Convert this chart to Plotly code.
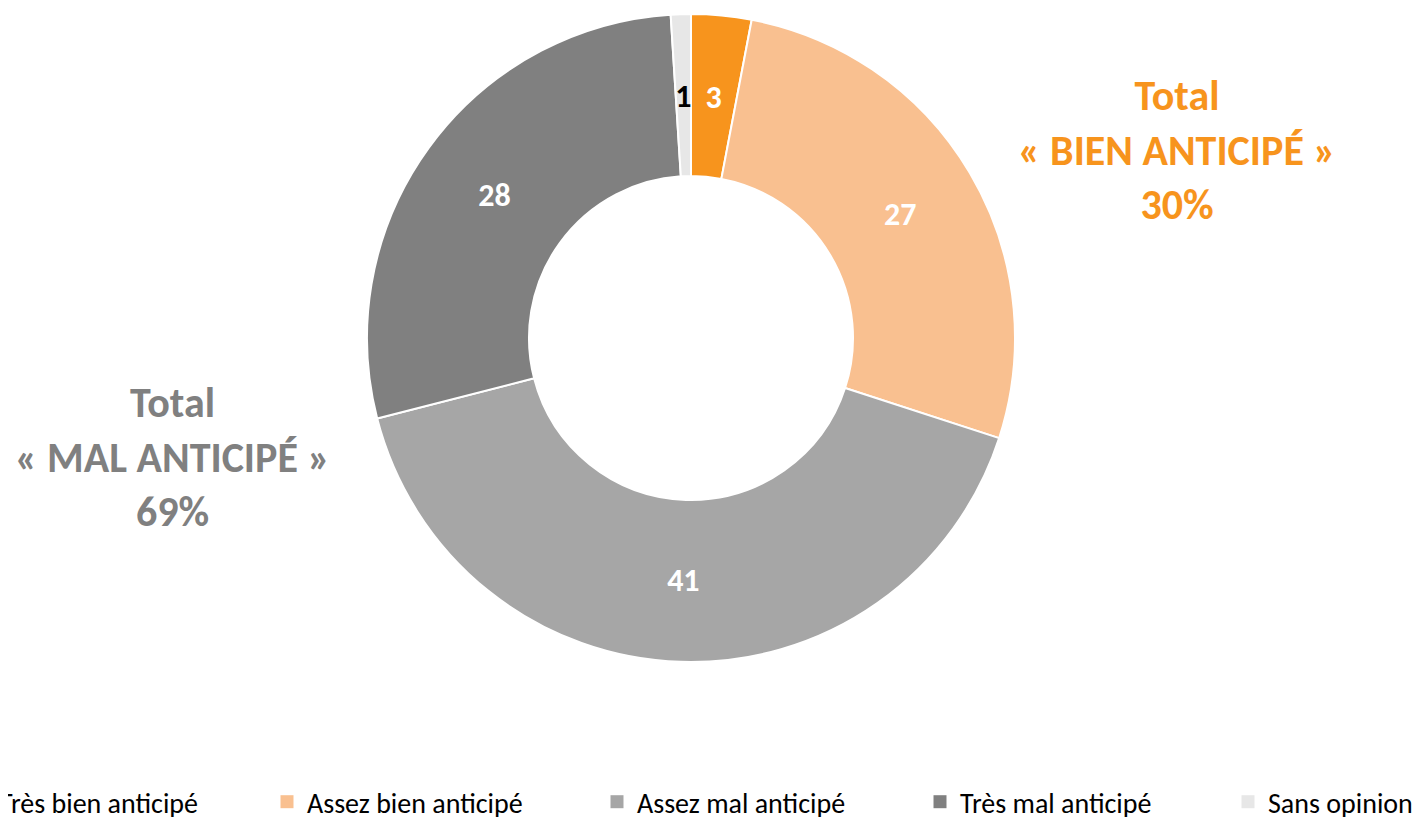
import plotly.graph_objects as go

categories = ["Très bien anticipé", "Assez bien anticipé", "Assez mal anticipé", "Très mal anticipé", "Sans opinion"]
values = [3, 27, 41, 28, 1]
colors = ["#F7941D", "#F9C090", "#A6A6A6", "#808080", "#E7E7E7"]
label_colors = ["white", "white", "white", "white", "black"]

FONT = "Carlito, Lato, sans-serif"
W, H = 1424, 817
OFF = 8  # page offset of the plot div
CX, CY, R = 691 - OFF, 338 - OFF, 324  # pie centre / radius in pixels


def dom(radius):
    return dict(x=[(CX - radius) / W, (CX + radius) / W],
                y=[1 - (CY + radius) / H, 1 - (CY - radius) / H])


def labels_for(idx):
    return [f"<b>{v}</b>" if i in idx else "" for i, v in enumerate(values)]


fig = go.Figure()

# main donut (labels of the wide slices)
fig.add_trace(go.Pie(
    labels=categories, values=values, hole=0.5, sort=False,
    direction="clockwise", rotation=0,
    marker=dict(colors=colors, line=dict(color="white", width=2)),
    text=labels_for([1, 2, 3]), textinfo="text",
    textposition="inside", insidetextorientation="horizontal",
    textfont=dict(family=FONT, size=32, color=label_colors),
    domain=dom(R), showlegend=False, hoverinfo="label+value",
))

# transparent overlays carrying the labels of the thin slices at mid-ring
for idx, rad in [([0], 264), ([4], 249)]:
    fig.add_trace(go.Pie(
        labels=categories, values=values, hole=0.5, sort=False,
        direction="clockwise", rotation=0,
        marker=dict(colors=["rgba(0,0,0,0)"] * len(values), line=dict(width=0)),
        text=labels_for(idx), textinfo="text",
        textposition="inside", insidetextorientation="horizontal",
        textfont=dict(family=FONT, size=32, color=label_colors),
        domain=dom(rad), showlegend=False, hoverinfo="skip",
    ))

# legend entries (one legend each, so they can be spread like the original)
legend_left_px = [-41 - OFF, 267 - OFF, 597 - OFF, 920 - OFF, 1228 - OFF]
for i, (cat, col) in enumerate(zip(categories, colors)):
    lname = "legend" if i == 0 else f"legend{i + 1}"
    fig.add_trace(go.Scatter(
        x=[None], y=[None], mode="markers", name=cat,
        marker=dict(symbol="square", size=13, color=col),
        legend=lname, showlegend=True,
    ))

layout_legends = {}
for i, lx in enumerate(legend_left_px):
    lname = "legend" if i == 0 else f"legend{i + 1}"
    layout_legends[lname] = dict(
        orientation="h", x=lx / W, xanchor="left",
        y=1 - (802 - OFF) / H, yanchor="middle",
        font=dict(family=FONT, size=28, color="#000000"),
        bgcolor="rgba(0,0,0,0)", borderwidth=0,
    )

fig.update_layout(
    width=W, height=H,
    margin=dict(l=0, r=0, t=0, b=0, autoexpand=False),
    paper_bgcolor="white", plot_bgcolor="white",
    uniformtext=dict(minsize=32, mode="show"),
    font=dict(family=FONT),
    xaxis=dict(visible=False), yaxis=dict(visible=False),
    annotations=[
        dict(text="<b>Total<br>« BIEN ANTICIPÉ »<br>30%</b>",
             x=(1177 - OFF) / W, y=1 - (150 - OFF) / H,
             xanchor="center", yanchor="middle",
             xref="paper", yref="paper", showarrow=False,
             font=dict(family=FONT, size=42, color="#F7941D"), align="center"),
        dict(text="<b>Total<br>« MAL ANTICIPÉ »<br>69%</b>",
             x=(172 - OFF) / W, y=1 - (457 - OFF) / H,
             xanchor="center", yanchor="middle",
             xref="paper", yref="paper", showarrow=False,
             font=dict(family=FONT, size=42, color="#808080"), align="center"),
    ],
    **layout_legends,
)

fig.write_html("out.html")
